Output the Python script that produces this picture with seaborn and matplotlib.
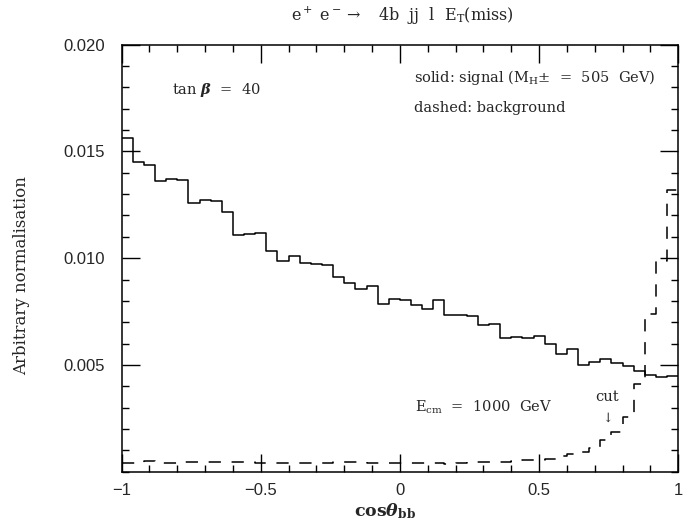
import numpy as np
import pandas as pd
import seaborn as sns
import matplotlib.pyplot as plt
from matplotlib.ticker import MultipleLocator, FixedLocator

# histogram heights, 50 bins of width 0.04 between -1 and 1
bin_lo, bin_hi, n_bins = -1.0, 1.0, 50

signal = [0.01565, 0.01452, 0.01438, 0.01363, 0.01371, 0.01368, 0.01260, 0.01271, 0.01266, 0.01218,
          0.01110, 0.01115, 0.01118, 0.01035, 0.00986, 0.01008, 0.00977, 0.00974, 0.00966, 0.00913,
          0.00882, 0.00854, 0.00869, 0.00784, 0.00807, 0.00804, 0.00782, 0.00760, 0.00802, 0.00736,
          0.00734, 0.00728, 0.00689, 0.00692, 0.00626, 0.00633, 0.00626, 0.00636, 0.00600, 0.00553,
          0.00573, 0.00500, 0.00516, 0.00528, 0.00509, 0.00495, 0.00471, 0.00455, 0.00443, 0.00449]

background = [0.00042, 0.00043, 0.00050, 0.00043, 0.00043, 0.00044, 0.00044, 0.00047, 0.00047, 0.00044,
              0.00044, 0.00046, 0.00042, 0.00043, 0.00042, 0.00041, 0.00041, 0.00040, 0.00043, 0.00047,
              0.00045, 0.00044, 0.00042, 0.00041, 0.00040, 0.00041, 0.00042, 0.00041, 0.00040, 0.00038,
              0.00043, 0.00044, 0.00044, 0.00045, 0.00046, 0.00048, 0.00054, 0.00056, 0.00061, 0.00075,
              0.00085, 0.00093, 0.00112, 0.00148, 0.00187, 0.00257, 0.00413, 0.00740, 0.00989, 0.01320]

xtick_vals = [-1, -0.5, 0, 0.5, 1]
xtick_labels = ['\u22121', '\u22120.5', '0', '0.5', '1']
ytick_vals = [0.005, 0.010, 0.015, 0.020]

edges = np.linspace(bin_lo, bin_hi, n_bins + 1)
centres = 0.5 * (edges[:-1] + edges[1:])
df = pd.DataFrame({'cos': np.concatenate([centres, centres]),
                   'w': signal + background,
                   'sample': ['signal'] * n_bins + ['background'] * n_bins})

sns.set_style('ticks')
plt.rcParams['font.family'] = ['DejaVu Serif']
plt.rcParams['mathtext.fontset'] = 'dejavuserif'

fig = plt.figure(figsize=(6.91, 5.25), dpi=100)
ax = fig.add_axes([0.176, 0.1015, 0.8056, 0.8134])

sns.histplot(data=df[df['sample'] == 'signal'], x='cos', weights='w', bins=n_bins,
             binrange=(bin_lo, bin_hi), element='step', fill=False,
             color='black', linewidth=1.1, ax=ax)
sns.histplot(data=df[df['sample'] == 'background'], x='cos', weights='w', bins=n_bins,
             binrange=(bin_lo, bin_hi), element='step', fill=False,
             color='black', linewidth=1.1, linestyle=(0, (8, 7)), ax=ax)

ax.set_xlim(bin_lo, bin_hi)
ax.set_ylim(0, 0.020)
ax.xaxis.set_major_locator(FixedLocator(xtick_vals))
ax.set_xticklabels(xtick_labels)
ax.xaxis.set_minor_locator(MultipleLocator(0.1))
ax.yaxis.set_major_locator(FixedLocator(ytick_vals))
ax.set_yticklabels([f'{v:.3f}' for v in ytick_vals])
ax.yaxis.set_minor_locator(MultipleLocator(0.001))
ax.tick_params(which='both', direction='in', top=True, right=True, width=1, color='black')
ax.tick_params(which='major', length=13)
ax.tick_params(which='minor', length=5)
ax.tick_params(axis='x', which='major', pad=8)
ax.tick_params(axis='y', which='major', pad=12)
for lab in ax.get_xticklabels() + ax.get_yticklabels():
    lab.set_fontfamily('Liberation Sans')
    lab.set_fontsize(12)
for sp in ax.spines.values():
    sp.set_linewidth(1.1)
    sp.set_color('black')

ax.set_xlabel('')
ax.set_ylabel('')
fig.text(0.557, 0.026, r'cos$\boldsymbol{\theta}_{\mathbf{bb}}$', ha='center', va='center',
         fontsize=12.5, fontweight='bold')
fig.text(0.031, 0.475, 'Arbitrary normalisation', rotation=90, ha='center', va='center', fontsize=12)
fig.text(0.583, 0.971, r'e$^+$ e$^-$$\rightarrow$   4b  jj  l  E$_\mathrm{T}$(miss)',
         ha='center', va='center', fontsize=11.5)

ax.text(-0.82, 0.0179, r'tan $\boldsymbol{\beta}$  =  40', ha='left', va='center', fontsize=10.5)
ax.text(0.05, 0.01846, r'solid: signal (M$_\mathrm{H}$$\pm$  =  505  GeV)', ha='left', va='center', fontsize=10.5)
ax.text(0.05, 0.01703, 'dashed: background', ha='left', va='center', fontsize=10.5)
ax.text(0.054, 0.0030, r'E$_\mathrm{cm}$  =  1000  GeV', ha='left', va='center', fontsize=10.5)
ax.text(0.745, 0.0035, 'cut', ha='center', va='center', fontsize=10.5)
ax.text(0.745, 0.0025, '\u2193', ha='center', va='center', fontsize=9)

fig.savefig('out.png', dpi=100)
